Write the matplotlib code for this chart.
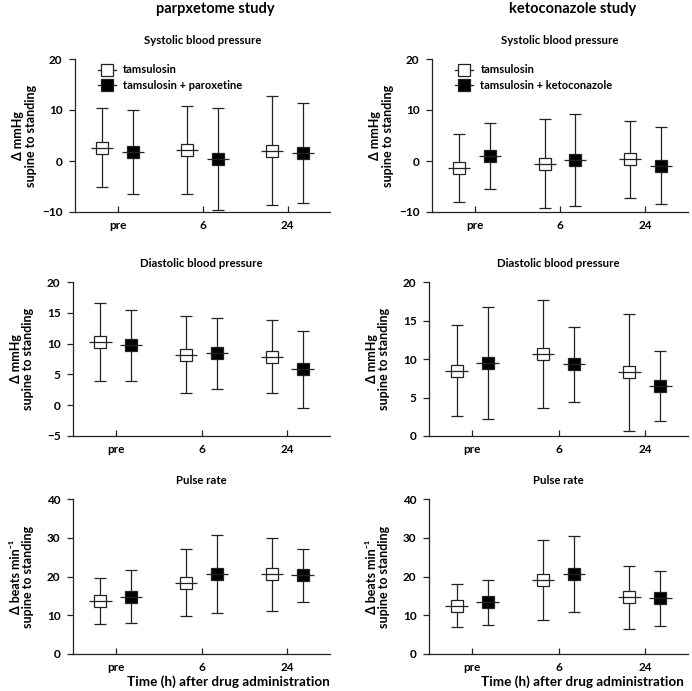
import numpy as np
import matplotlib
matplotlib.use("Agg")
import matplotlib.pyplot as plt
from matplotlib.lines import Line2D

plt.rcParams['font.family'] = ['Lato', 'DejaVu Sans']
plt.rcParams['font.weight'] = 'bold'
plt.rcParams['axes.unicode_minus'] = True

times = ["pre", "6", "24"]

# paroxetine study (mean, SD)
par_sys_tam = [2.6, 2.2, 2.0]
par_sys_tam_sd = [7.7, 8.6, 10.7]
par_sys_combo = [1.8, 0.4, 1.6]
par_sys_combo_sd = [8.2, 10.0, 9.8]

par_dia_tam = [10.3, 8.2, 7.9]
par_dia_tam_sd = [6.3, 6.2, 5.9]
par_dia_combo = [9.7, 8.4, 5.8]
par_dia_combo_sd = [5.7, 5.8, 6.2]

par_pul_tam = [13.6, 18.4, 20.6]
par_pul_tam_sd = [5.9, 8.6, 9.4]
par_pul_combo = [14.8, 20.7, 20.3]
par_pul_combo_sd = [6.8, 10.0, 6.8]

# ketoconazole study (mean, SD)
ket_sys_tam = [-1.4, -0.5, 0.3]
ket_sys_tam_sd = [6.7, 8.8, 7.6]
ket_sys_combo = [1.0, 0.2, -0.9]
ket_sys_combo_sd = [6.5, 9.0, 7.6]

ket_dia_tam = [8.5, 10.7, 8.3]
ket_dia_tam_sd = [5.9, 7.0, 7.6]
ket_dia_combo = [9.5, 9.3, 6.5]
ket_dia_combo_sd = [7.3, 4.9, 4.6]

ket_pul_tam = [12.5, 19.1, 14.6]
ket_pul_tam_sd = [5.5, 10.2, 8.2]
ket_pul_combo = [13.4, 20.7, 14.4]
ket_pul_combo_sd = [5.8, 9.8, 7.1]

W, H = 692, 691
fig = plt.figure(figsize=(W / 100, H / 100), dpi=100)
col = '#222222'


def px_axes(x0, x1, ytop, ybot):
    return fig.add_axes([x0 / W, 1 - ybot / H, (x1 - x0) / W, (ybot - ytop) / H])


def panel(ax, tam, tam_sd, combo, combo_sd, ylim, yticks, title, ylabel):
    x = np.arange(len(times))
    off = 0.18
    hw = 0.13
    for xs, m, s, fc in [(x - off, tam, tam_sd, 'white'), (x + off, combo, combo_sd, 'black')]:
        ax.errorbar(xs, m, yerr=s, fmt='none', ecolor=col, elinewidth=0.9,
                    capsize=4.5, capthick=0.9, zorder=2)
        ax.plot(xs, m, 's', ms=9, mfc=fc, mec=col, mew=0.9, zorder=3)
        ax.hlines(m, xs - hw, xs + hw, color=col, lw=0.9, zorder=4)
    ax.set_xlim(-0.5, 2.5)
    ax.set_ylim(*ylim)
    ax.set_yticks(yticks)
    ax.set_xticks(x)
    ax.set_xticklabels(times)
    for s in ['top', 'right']:
        ax.spines[s].set_visible(False)
    for s in ['left', 'bottom']:
        ax.spines[s].set_color(col)
        ax.spines[s].set_linewidth(0.9)
    ax.tick_params(axis='x', direction='in', length=4, width=0.9, color=col,
                   labelsize=8.5, pad=6)
    ax.tick_params(axis='y', direction='out', length=4, width=0.9, color=col,
                   labelsize=8.5, pad=5)
    for lab in ax.get_xticklabels() + ax.get_yticklabels():
        lab.set_fontweight('bold')
    ax.set_title(title, fontsize=8.2, fontweight='bold', pad=11)
    ax.set_ylabel(ylabel, fontsize=9, fontweight='bold', linespacing=1.05)
    ax.yaxis.set_label_coords(-0.15, 0.5)


ax1 = px_axes(75, 330, 59, 212)
panel(ax1, par_sys_tam, par_sys_tam_sd, par_sys_combo, par_sys_combo_sd,
      (-10, 20), [-10, 0, 10, 20], "Systolic blood pressure",
      "Δ mmHg\nsupine to standing")
ax2 = px_axes(432, 688, 59, 212)
panel(ax2, ket_sys_tam, ket_sys_tam_sd, ket_sys_combo, ket_sys_combo_sd,
      (-10, 20), [-10, 0, 10, 20], "Systolic blood pressure",
      "Δ mmHg\nsupine to standing")
ax3 = px_axes(73, 330, 282, 436)
panel(ax3, par_dia_tam, par_dia_tam_sd, par_dia_combo, par_dia_combo_sd,
      (-5, 20), [-5, 0, 5, 10, 15, 20], "Diastolic blood pressure",
      "Δ mmHg\nsupine to standing")
ax4 = px_axes(429, 688, 282, 436)
panel(ax4, ket_dia_tam, ket_dia_tam_sd, ket_dia_combo, ket_dia_combo_sd,
      (0, 20), [0, 5, 10, 15, 20], "Diastolic blood pressure",
      "Δ mmHg\nsupine to standing")
ax5 = px_axes(73, 330, 499, 654)
panel(ax5, par_pul_tam, par_pul_tam_sd, par_pul_combo, par_pul_combo_sd,
      (0, 40), [0, 10, 20, 30, 40], "Pulse rate",
      "Δ beats min⁻¹\nsupine to standing")
ax6 = px_axes(429, 688, 499, 654)
panel(ax6, ket_pul_tam, ket_pul_tam_sd, ket_pul_combo, ket_pul_combo_sd,
      (0, 40), [0, 10, 20, 30, 40], "Pulse rate",
      "Δ beats min⁻¹\nsupine to standing")

for ax, lab2 in [(ax1, "tamsulosin + paroxetine"), (ax2, "tamsulosin + ketoconazole")]:
    h1 = Line2D([], [], color=col, lw=0.9, marker='s', ms=8, mfc='white', mec=col, mew=0.9)
    h2 = Line2D([], [], color=col, lw=0.9, marker='s', ms=8, mfc='black', mec=col, mew=0.9)
    leg = ax.legend([h1, h2], ["tamsulosin", lab2], loc='upper left',
                    bbox_to_anchor=(0.05, 1.03), frameon=False, fontsize=8,
                    handlelength=1.6, handletextpad=0.7, labelspacing=0.4)
    for t in leg.get_texts():
        t.set_fontweight('bold')

fig.text(215 / W, 1 - 9 / H, "parpxetome study", ha='center', va='center',
         fontsize=10.5, fontweight='bold')
fig.text(573 / W, 1 - 9 / H, "ketoconazole study", ha='center', va='center',
         fontsize=10.5, fontweight='bold')
fig.text(228 / W, 1 - 682 / H, "Time (h) after drug administration", ha='center',
         va='center', fontsize=9.7, fontweight='bold')
fig.text(582 / W, 1 - 682 / H, "Time (h) after drug administration", ha='center',
         va='center', fontsize=9.7, fontweight='bold')

fig.savefig("out.png", dpi=100)
